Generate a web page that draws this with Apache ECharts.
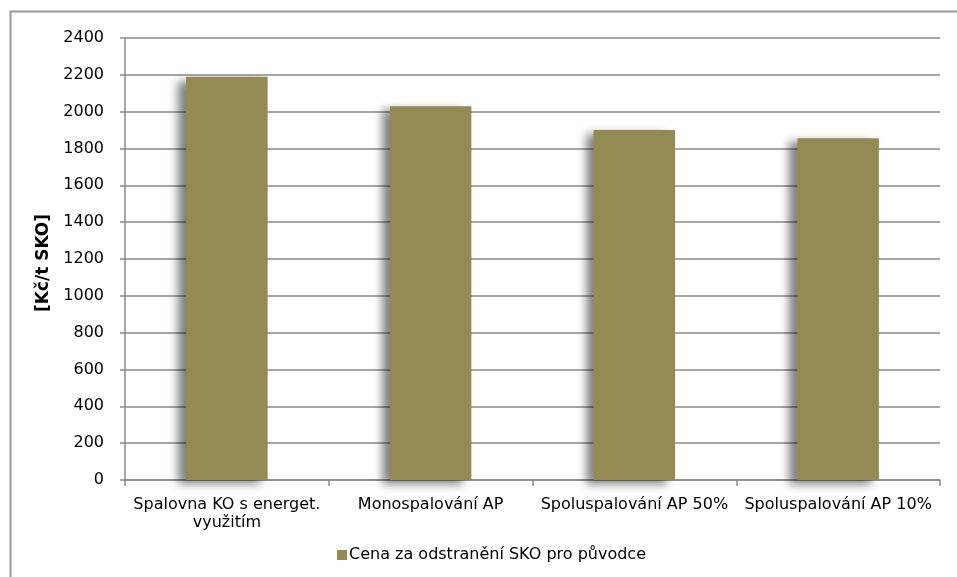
<!DOCTYPE html>
<html>
<head>
<meta charset="utf-8">
<script src="https://cdn.jsdelivr.net/npm/echarts@6/dist/echarts.min.js"></script>
<style>
  html, body { margin: 0; padding: 0; background: #fff; }
  #chart { width: 957px; height: 577px; }
</style>
</head>
<body>
<div id="chart"></div>
<script>
// data
const categories = [
  'Spalovna KO s energet.\nvyužitím',
  'Monospalování AP',
  'Spoluspalování AP 50%',
  'Spoluspalování AP 10%'
];
const seriesName = 'Cena za odstranění SKO pro původce';
const values = [2190, 2030, 1900, 1855];
const yTicks = { min: 0, max: 2400, step: 200 };

const font = 'DejaVu Sans';
const gridGray = '#8a8a8a';

const myChart = echarts.init(document.getElementById('chart'));
const option = {
  animation: false,
  textStyle: { fontFamily: font },
  graphic: [
    {
      type: 'rect',
      left: 8,
      top: 9,
      shape: { width: 1000, height: 1000 },
      style: { fill: 'none', stroke: '#999', lineWidth: 2 },
      z: -1
    }
  ],
  grid: { left: 125, right: 17, top: 38, bottom: 97 },
  legend: {
    left: 332,
    top: 542,
    itemWidth: 10,
    itemHeight: 10,
    itemGap: 4,
    icon: 'rect',
    textStyle: { fontSize: 16, color: '#000', fontFamily: font, padding: [0, 0, 0, -3] },
    data: [seriesName]
  },
  xAxis: {
    type: 'category',
    data: categories,
    axisLine: { lineStyle: { color: gridGray, width: 1.5 } },
    axisTick: { show: true, length: 6, alignWithLabel: false, lineStyle: { color: gridGray, width: 1.5 } },
    axisLabel: {
      interval: 0,
      color: '#000',
      fontSize: 16,
      lineHeight: 18,
      margin: 16,
      fontFamily: font
    }
  },
  yAxis: {
    type: 'value',
    min: yTicks.min,
    max: yTicks.max,
    interval: yTicks.step,
    name: '[Kč/t SKO]',
    nameLocation: 'middle',
    nameGap: 73,
    nameTextStyle: { fontSize: 17, fontWeight: 'bold', color: '#000', fontFamily: font, padding: [0, 8, 0, 0] },
    axisLine: { show: true, lineStyle: { color: gridGray, width: 1.5 } },
    axisTick: { show: true, length: 5, lineStyle: { color: gridGray, width: 1.5 } },
    axisLabel: {
      color: '#000',
      fontSize: 16,
      margin: 21,
      fontFamily: font,
      formatter: function (v) { return String(v); }
    },
    splitLine: { lineStyle: { color: gridGray, width: 1.5 } }
  },
  series: [
    {
      name: seriesName,
      type: 'bar',
      data: values,
      barWidth: '40%',
      itemStyle: {
        color: '#948A54',
        shadowColor: 'rgba(0,0,0,0.5)',
        shadowBlur: 9,
        shadowOffsetX: -8,
        shadowOffsetY: 4
      }
    }
  ]
};
myChart.setOption(option);
window.onresize = function () {
  myChart.resize();
};
</script>
</body>
</html>
